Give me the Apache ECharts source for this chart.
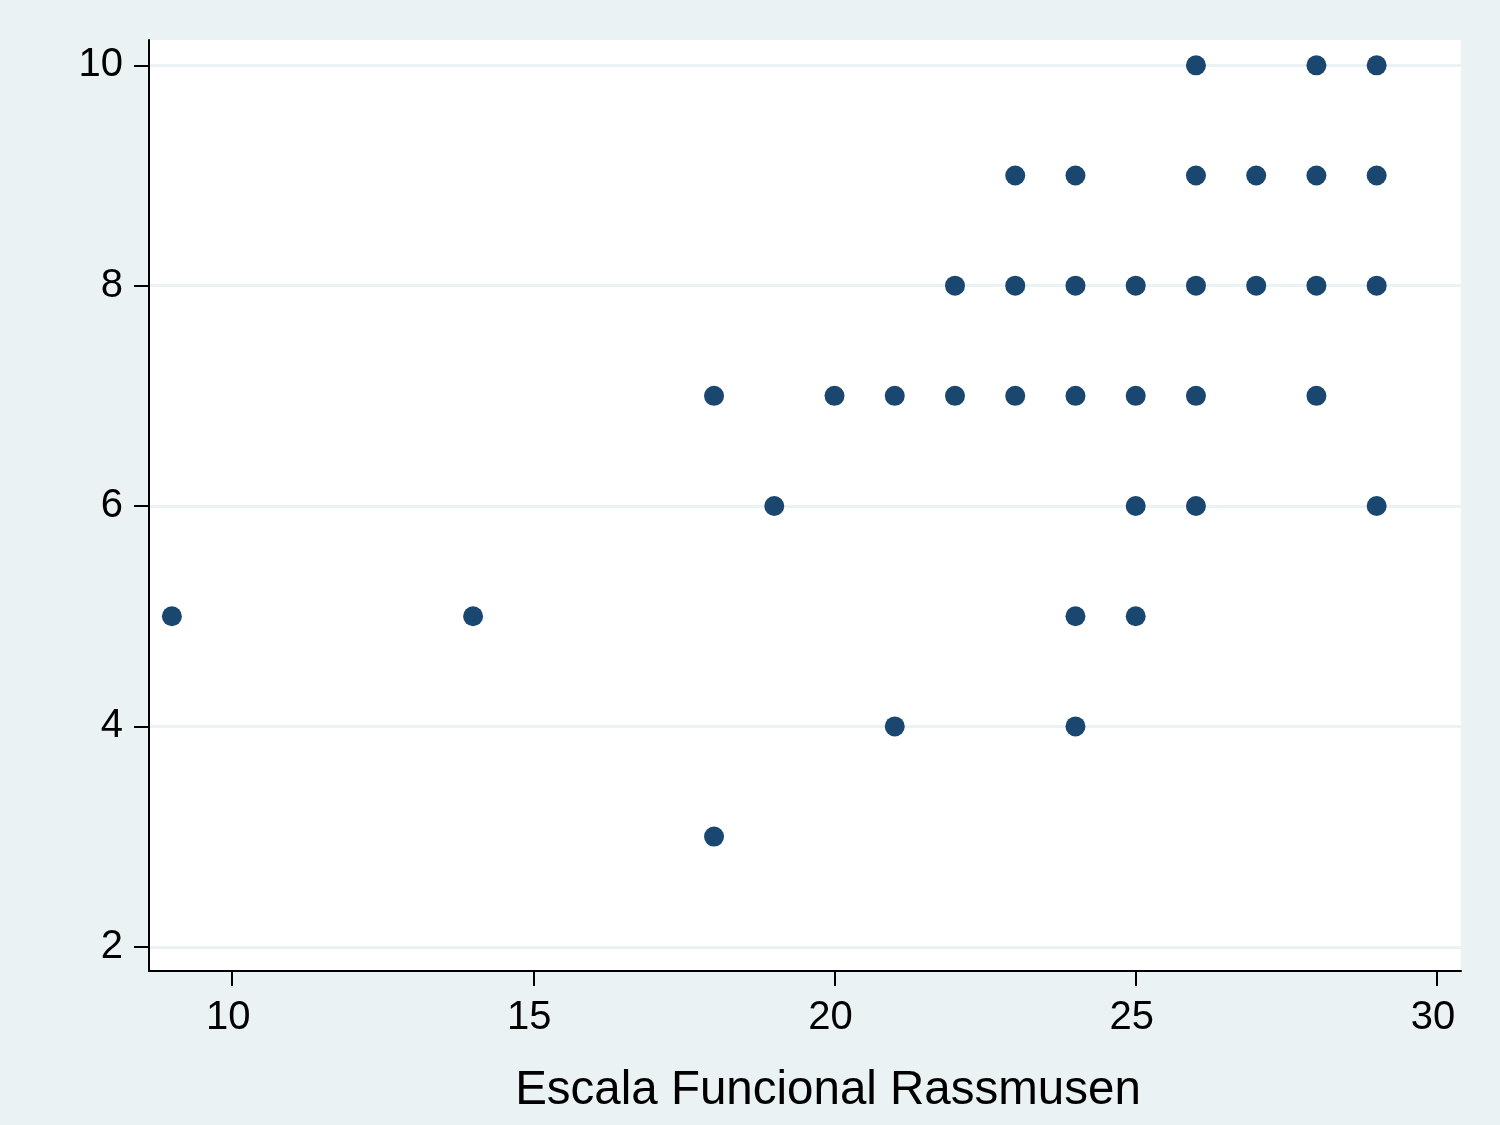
<!DOCTYPE html>
<html>
<head>
<meta charset="utf-8">
<script src="https://cdn.jsdelivr.net/npm/echarts@6/dist/echarts.min.js"></script>
<style>html,body{margin:0;padding:0;background:#EAF2F3;}#c{width:1500px;height:1125px;}</style>
</head>
<body>
<div id="c"></div>
<script>
const xValues = [9, 14, 18, 18, 19, 20, 21, 21, 22, 22, 23, 23, 23, 24, 24, 24, 24, 24, 25, 25, 25, 25, 26, 26, 26, 26, 26, 27, 27, 28, 28, 28, 28, 29, 29, 29, 29];
const yValues = [5, 5, 7, 3, 6, 7, 7, 4, 8, 7, 9, 8, 7, 9, 8, 7, 5, 4, 8, 7, 6, 5, 10, 9, 8, 7, 6, 9, 8, 10, 9, 8, 7, 10, 9, 8, 6];
const xTicks = [10, 15, 20, 25, 30];
const yTicks = [2, 4, 6, 8, 10];
const xTitle = 'Escala Funcional Rassmusen';

const points = xValues.map((x, i) => [x, yValues[i]]);
const chart = echarts.init(document.getElementById('c'), null, {renderer: 'canvas'});
chart.setOption({
  backgroundColor: '#EAF2F3',
  animation: false,
  grid: {left: 149, right: 39, top: 40, bottom: 154, show: true, backgroundColor: '#FFFFFF', borderWidth: 0},
  xAxis: {
    type: 'value', min: 8.62, max: 30.4,
    axisLine: {show: true, onZero: false, lineStyle: {color: '#000', width: 2}},
    axisTick: {show: true, length: 15, customValues: xTicks, lineStyle: {color: '#000', width: 2}},
    axisLabel: {customValues: xTicks, color: '#000', fontSize: 40, fontFamily: 'Liberation Sans', margin: 27, padding: [0, 8, 0, 0]},
    splitLine: {show: false}
  },
  yAxis: {
    type: 'value', min: 1.78, max: 10.23,
    axisLine: {show: true, onZero: false, lineStyle: {color: '#000', width: 2}},
    axisTick: {show: true, length: 15, customValues: yTicks, lineStyle: {color: '#000', width: 2}},
    axisLabel: {customValues: yTicks, color: '#000', fontSize: 40, fontFamily: 'Liberation Sans', margin: 26},
    splitLine: {show: true, lineStyle: {color: '#EAF2F3', width: 3}}
  },
  graphic: [{
    type: 'text', x: 828, y: 1091,
    style: {text: xTitle, fill: '#000', font: '47.5px "Liberation Sans"', textAlign: 'center', textVerticalAlign: 'middle'}
  }],
  series: [{
    type: 'scatter', data: points, symbol: 'circle', symbolSize: 20,
    itemStyle: {color: '#1A476F', opacity: 1}
  }]
});
</script>
</body>
</html>
